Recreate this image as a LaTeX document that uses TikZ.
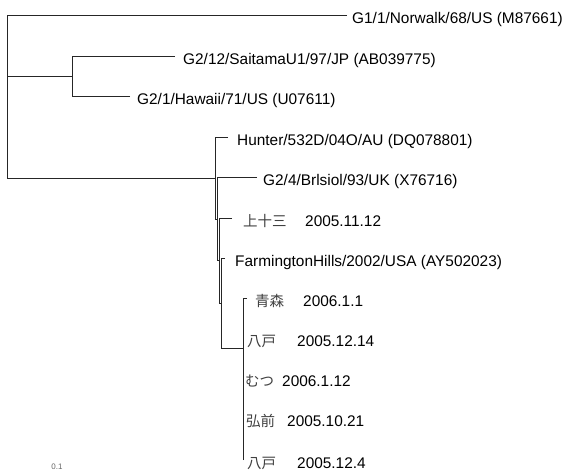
\documentclass[tikz,border=0pt]{standalone}
\usepackage{fontspec}
\setmainfont{Liberation Sans}
\newfontfamily\cjk{Noto Sans CJK JP}
\newcommand{\jpt}[1]{{\cjk\fontsize{14.5}{17}\selectfont\color{black!75}#1}}
\begin{document}
\begin{tikzpicture}[x=1pt,y=-1pt,
  br/.style={line width=0.9pt, draw=black!85},
  lab/.style={anchor=base west, inner sep=0pt, font=\fontsize{15.4}{18}\selectfont}]
\useasboundingbox (0,0) rectangle (576,472);
% internal nodes
\coordinate (n0) at (7,96);
\coordinate (n1) at (72,76);
\coordinate (n2) at (215,178);
\coordinate (n3) at (217,219);
\coordinate (n4) at (219,260.5);
\coordinate (n5) at (221,303);
\coordinate (n6) at (243,348.5);
\coordinate (n7) at (243,399);
% tips
\coordinate (tN) at (347,15);
\coordinate (tS) at (175,56);
\coordinate (tH) at (130,96);
\coordinate (tHu) at (228,137);
\coordinate (tB) at (257,177);
\coordinate (tK) at (232,218);
\coordinate (tF) at (225,258);
\coordinate (tA) at (247,298);
\coordinate (t8a) at (243,338);
\coordinate (tM) at (243,378);
\coordinate (tHi) at (243,418);
\coordinate (t8b) at (243,460);
% branches
\draw[br] (tN) -| (n0);
\draw[br] (n1) -| (n0);
\draw[br] (n2) -| (n0);
\draw[br] (tS) -| (n1);
\draw[br] (tH) -| (n1);
\draw[br] (tHu) -| (n2);
\draw[br] (n3) -| (n2);
\draw[br] (tB) -| (n3);
\draw[br] (n4) -| (n3);
\draw[br] (tK) -| (n4);
\draw[br] (n5) -| (n4);
\draw[br] (tF) -| (n5);
\draw[br] (n6) -| (n5);
\draw[br] (tA) -| (n6);
\draw[br] (n7) -| (n6);
\draw[br] (t8a) -| (n7);
\draw[br] (tM) -| (n7);
\draw[br] (tHi) -| (n7);
\draw[br] (t8b) -| (n7);
% labels
\node[lab] (lN) at (352,23) {G1/1/Norwalk/68/US (M87661)};
\node[lab] (lS) at (183,64) {G2/12/SaitamaU1/97/JP (AB039775)};
\node[lab] (lH) at (137,104) {G2/1/Hawaii/71/US (U07611)};
\node[lab] (lHu) at (237,145) {Hunter/532D/04O/AU (DQ078801)};
\node[lab] (lB) at (263,185) {G2/4/Brlsiol/93/UK (X76716)};
\node[lab] (lK) at (243,226) {\makebox[62pt][l]{\jpt{上十三}}2005.11.12};
\node[lab] (lF) at (235,266) {FarmingtonHills/2002/USA (AY502023)};
\node[lab] (lA) at (255,306) {\makebox[48pt][l]{\jpt{青森}}2006.1.1};
\node[lab] (l8a) at (247,346) {\makebox[50pt][l]{\jpt{八戸}}2005.12.14};
\node[lab] (lM) at (245,386) {\makebox[37pt][l]{\jpt{むつ}}2006.1.12};
\node[lab] (lHi) at (246,426) {\makebox[41pt][l]{\jpt{弘前}}2005.10.21};
\node[lab] (l8b) at (247,468) {\makebox[50pt][l]{\jpt{八戸}}2005.12.4};
\node[font=\fontsize{8}{9}\selectfont, text=black!60, inner sep=0pt] (sc) at (57,467) {0.1};
\end{tikzpicture}
\end{document}
